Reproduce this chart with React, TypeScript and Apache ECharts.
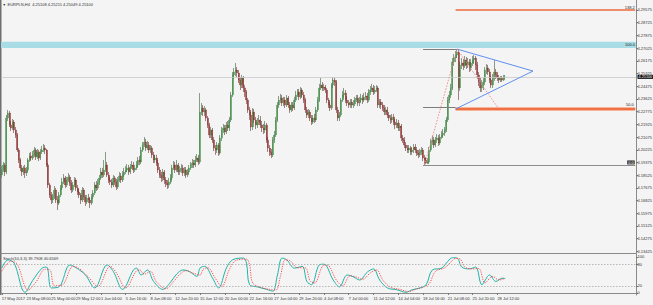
import React, { useEffect, useRef } from 'react';
import * as echarts from 'echarts';

// ---------- DATA ----------
const firstOpen = 4.1854;
const closes = [
4.1887,4.1921,4.1874,4.2235,4.2269,4.2188,4.2168,4.2208,4.2155,4.2121,
4.2021,4.1954,4.1901,4.1874,4.1901,4.1867,4.1887,4.1954,4.1981,4.1967,
4.1988,4.2021,4.1974,4.2008,4.1967,4.2008,4.2021,4.2034,4.2021,4.1921,
4.1787,4.1720,4.1686,4.1707,4.1753,4.1686,4.1666,4.1720,4.1767,4.1807,
4.1834,4.1787,4.1820,4.1840,4.1800,4.1753,4.1787,4.1820,4.1767,4.1740,
4.1720,4.1686,4.1753,4.1707,4.1673,4.1700,4.1686,4.1666,4.1707,4.1733,
4.1787,4.1767,4.1800,4.1834,4.1874,4.1854,4.1887,4.1921,4.1854,4.1820,
4.1807,4.1787,4.1834,4.1807,4.1773,4.1820,4.1847,4.1820,4.1854,4.1874,
4.1887,4.1901,4.1874,4.1907,4.1921,4.1887,4.1901,4.1921,4.1954,4.1941,
4.2021,4.2054,4.2074,4.2034,4.2054,4.2021,4.2034,4.1988,4.1954,4.1967,
4.1934,4.1887,4.1854,4.1834,4.1874,4.1820,4.1800,4.1787,4.1807,4.1834,
4.1901,4.1921,4.1887,4.1921,4.1874,4.1887,4.1901,4.1867,4.1887,4.1854,
4.1874,4.1901,4.1921,4.1934,4.1921,4.1954,4.1967,4.1941,4.2275,4.2302,
4.2275,4.2289,4.2235,4.2188,4.2121,4.2155,4.2088,4.2034,4.2021,4.2054,
4.2001,4.2101,4.2155,4.2168,4.2141,4.2188,4.2168,4.2222,4.2389,4.2523,
4.2543,4.2556,4.2536,4.2489,4.2456,4.2503,4.2436,4.2409,4.2355,4.2289,
4.2255,4.2175,4.2275,4.2222,4.2188,4.2208,4.2222,4.2188,4.2168,4.2155,
4.2188,4.2088,4.2034,4.2008,4.1988,4.2088,4.2121,4.2222,4.2322,4.2355,
4.2369,4.2335,4.2355,4.2322,4.2369,4.2322,4.2289,4.2322,4.2302,4.2355,
4.2389,4.2409,4.2376,4.2422,4.2389,4.2355,4.2289,4.2255,4.2275,4.2235,
4.2208,4.2235,4.2222,4.2289,4.2355,4.2436,4.2456,4.2436,4.2442,4.2422,
4.2355,4.2322,4.2302,4.2456,4.2489,4.2476,4.2289,4.2235,4.2255,4.2355,
4.2389,4.2402,4.2355,4.2335,4.2322,4.2342,4.2322,4.2329,4.2355,4.2369,
4.2335,4.2355,4.2369,4.2355,4.2376,4.2382,4.2355,4.2409,4.2422,4.2436,
4.2409,4.2422,4.2436,4.2322,4.2342,4.2322,4.2302,4.2275,4.2289,4.2255,
4.2235,4.2222,4.2242,4.2208,4.2188,4.2202,4.2168,4.2182,4.2101,4.2088,
4.2054,4.2034,4.2021,4.2034,4.2008,4.2021,4.2041,4.2021,4.2001,4.1988,
4.2008,4.2021,4.1967,4.1954,4.1934,4.1941,4.2021,4.2074,4.2088,4.2054,
4.2088,4.2101,4.2068,4.2108,4.2121,4.2135,4.2155,4.2222,4.2355,4.2389,
4.2436,4.2610,4.2636,4.2656,4.2676,4.2436,4.2590,4.2603,4.2583,4.2623,
4.2590,4.2610,4.2570,4.2603,4.2623,4.2636,4.2590,4.2523,4.2476,4.2436,
4.2456,4.2476,4.2556,4.2570,4.2543,4.2489,4.2456,4.2503,4.2543,4.2523,
4.2503,4.2489,4.2503,4.2489,4.2509,4.2510
];
const highs = [
4.1914,4.1941,4.1934,4.2255,4.2289,4.2282,4.2215,4.2228,4.2222,4.2175,
4.2135,4.2034,4.1967,4.1921,4.1914,4.1921,4.1907,4.1967,4.2001,4.2008,
4.2014,4.2041,4.2034,4.2028,4.2021,4.2028,4.2048,4.2061,4.2054,4.2028,
4.1934,4.1800,4.1740,4.1727,4.1780,4.1767,4.1713,4.1740,4.1787,4.1834,
4.1860,4.1847,4.1840,4.1867,4.1854,4.1820,4.1807,4.1840,4.1834,4.1787,
4.1760,4.1733,4.1773,4.1767,4.1720,4.1720,4.1727,4.1707,4.1727,4.1753,
4.1807,4.1813,4.1827,4.1854,4.1901,4.1901,4.1954,4.2008,4.1941,4.1874,
4.1840,4.1827,4.1854,4.1847,4.1827,4.1840,4.1874,4.1867,4.1880,4.1901,
4.1914,4.1927,4.1921,4.1927,4.1947,4.1941,4.1921,4.1947,4.1974,4.1981,
4.2041,4.2074,4.2108,4.2095,4.2081,4.2074,4.2054,4.2048,4.2008,4.1988,
4.1988,4.1954,4.1907,4.1874,4.1894,4.1887,4.1840,4.1820,4.1834,4.1860,
4.1921,4.1947,4.1941,4.1954,4.1934,4.1914,4.1927,4.1921,4.1907,4.1907,
4.1894,4.1921,4.1941,4.1961,4.1954,4.1981,4.1994,4.1988,4.2402,4.2335,
4.2322,4.2315,4.2302,4.2248,4.2202,4.2175,4.2168,4.2108,4.2054,4.2074,
4.2068,4.2121,4.2175,4.2195,4.2188,4.2208,4.2215,4.2242,4.2409,4.2543,
4.2570,4.2603,4.2576,4.2556,4.2509,4.2523,4.2516,4.2456,4.2422,4.2369,
4.2309,4.2275,4.2302,4.2295,4.2242,4.2235,4.2255,4.2248,4.2215,4.2195,
4.2215,4.2202,4.2108,4.2054,4.2028,4.2108,4.2148,4.2242,4.2342,4.2382,
4.2396,4.2389,4.2376,4.2376,4.2389,4.2382,4.2342,4.2342,4.2342,4.2376,
4.2416,4.2429,4.2429,4.2442,4.2436,4.2409,4.2369,4.2309,4.2295,4.2289,
4.2255,4.2255,4.2262,4.2309,4.2376,4.2463,4.2503,4.2476,4.2463,4.2456,
4.2436,4.2369,4.2342,4.2469,4.2509,4.2503,4.2489,4.2309,4.2275,4.2369,
4.2416,4.2436,4.2422,4.2382,4.2355,4.2362,4.2362,4.2355,4.2376,4.2389,
4.2389,4.2376,4.2396,4.2389,4.2402,4.2409,4.2402,4.2429,4.2449,4.2463,
4.2456,4.2449,4.2456,4.2449,4.2362,4.2362,4.2342,4.2322,4.2309,4.2309,
4.2275,4.2255,4.2262,4.2262,4.2228,4.2228,4.2222,4.2202,4.2195,4.2121,
4.2108,4.2074,4.2054,4.2054,4.2048,4.2041,4.2061,4.2061,4.2041,4.2021,
4.2028,4.2041,4.2034,4.1988,4.1974,4.1967,4.2041,4.2095,4.2115,4.2108,
4.2108,4.2128,4.2121,4.2128,4.2148,4.2161,4.2175,4.2242,4.2376,4.2416,
4.2463,4.2636,4.2663,4.2683,4.2696,4.2690,4.2610,4.2636,4.2630,4.2650,
4.2643,4.2636,4.2630,4.2630,4.2650,4.2656,4.2650,4.2610,4.2543,4.2503,
4.2489,4.2503,4.2576,4.2596,4.2590,4.2563,4.2516,4.2529,4.2623,4.2563,
4.2543,4.2523,4.2516,4.2516,4.2523,4.2523
];
const lows = [
4.1834,4.1874,4.1847,4.1860,4.2215,4.2175,4.2148,4.2155,4.2135,4.2101,
4.2008,4.1934,4.1880,4.1847,4.1854,4.1834,4.1847,4.1874,4.1941,4.1947,
4.1954,4.1974,4.1954,4.1961,4.1947,4.1954,4.1994,4.2008,4.1994,4.1907,
4.1767,4.1700,4.1660,4.1666,4.1693,4.1666,4.1620,4.1653,4.1707,4.1753,
4.1793,4.1767,4.1773,4.1807,4.1780,4.1733,4.1740,4.1773,4.1747,4.1720,
4.1700,4.1660,4.1673,4.1686,4.1646,4.1660,4.1666,4.1633,4.1653,4.1693,
4.1720,4.1747,4.1753,4.1787,4.1820,4.1834,4.1840,4.1874,4.1840,4.1800,
4.1787,4.1767,4.1773,4.1787,4.1753,4.1760,4.1807,4.1800,4.1807,4.1840,
4.1860,4.1874,4.1854,4.1860,4.1894,4.1867,4.1874,4.1887,4.1907,4.1921,
4.1927,4.2008,4.2041,4.2014,4.2021,4.2001,4.2001,4.1967,4.1934,4.1934,
4.1914,4.1867,4.1834,4.1807,4.1813,4.1793,4.1773,4.1760,4.1767,4.1793,
4.1820,4.1887,4.1867,4.1874,4.1854,4.1854,4.1867,4.1847,4.1847,4.1834,
4.1840,4.1860,4.1887,4.1901,4.1901,4.1907,4.1941,4.1921,4.1927,4.2255,
4.2248,4.2248,4.2215,4.2168,4.2101,4.2101,4.2068,4.2014,4.1988,4.2001,
4.1981,4.1988,4.2081,4.2135,4.2121,4.2128,4.2148,4.2148,4.2208,4.2376,
4.2496,4.2516,4.2509,4.2469,4.2422,4.2436,4.2409,4.2376,4.2329,4.2269,
4.2222,4.2148,4.2155,4.2202,4.2161,4.2168,4.2188,4.2168,4.2141,4.2128,
4.2135,4.2068,4.2008,4.1981,4.1967,4.1974,4.2068,4.2108,4.2208,4.2302,
4.2335,4.2315,4.2315,4.2302,4.2309,4.2302,4.2269,4.2275,4.2282,4.2289,
4.2342,4.2376,4.2355,4.2362,4.2369,4.2335,4.2269,4.2235,4.2235,4.2215,
4.2188,4.2195,4.2202,4.2208,4.2275,4.2342,4.2422,4.2416,4.2416,4.2402,
4.2335,4.2302,4.2282,4.2289,4.2436,4.2449,4.2269,4.2215,4.2215,4.2242,
4.2342,4.2369,4.2335,4.2315,4.2302,4.2302,4.2302,4.2302,4.2315,4.2342,
4.2315,4.2315,4.2342,4.2329,4.2342,4.2355,4.2335,4.2342,4.2389,4.2409,
4.2389,4.2396,4.2409,4.2302,4.2302,4.2295,4.2282,4.2255,4.2255,4.2235,
4.2215,4.2195,4.2202,4.2188,4.2161,4.2168,4.2148,4.2148,4.2081,4.2068,
4.2034,4.2014,4.2001,4.2001,4.1988,4.1988,4.2001,4.2001,4.1981,4.1967,
4.1974,4.1988,4.1947,4.1921,4.1927,4.1927,4.1927,4.2008,4.2054,4.2034,
4.2041,4.2068,4.2048,4.2054,4.2095,4.2101,4.2115,4.2141,4.2208,4.2335,
4.2369,4.2422,4.2583,4.2610,4.2636,4.2355,4.2416,4.2563,4.2556,4.2570,
4.2563,4.2570,4.2543,4.2549,4.2583,4.2596,4.2556,4.2496,4.2449,4.2409,
4.2409,4.2422,4.2456,4.2529,4.2523,4.2469,4.2436,4.2436,4.2483,4.2496,
4.2483,4.2469,4.2476,4.2476,4.2483,4.2496
];

const timeLabels = [
  '17 May 2017', '23 May 08:00', '25 May 00:00', '29 May 12:00', '1 Jun 04:00',
  '5 Jun 16:00', '8 Jun 08:00', '12 Jun 20:00', '15 Jun 12:00', '20 Jun 00:00',
  '22 Jun 16:00', '27 Jun 04:00', '29 Jun 20:00', '4 Jul 08:00', '7 Jul 00:00',
  '11 Jul 12:00', '14 Jul 04:00', '18 Jul 16:00', '21 Jul 08:00', '25 Jul 20:00',
  '28 Jul 12:00'
];

const priceTicks = [
  4.29575, 4.28725, 4.27875, 4.27025, 4.26175, 4.25325, 4.24475, 4.23625, 4.22775, 4.21925,
  4.21075, 4.20225, 4.19375, 4.18525, 4.17675, 4.16825, 4.15975, 4.15125, 4.14275, 4.13425
];
const stochTicks = [0, 20, 80, 100];
const stochBands = [20, 80];

// [bar index, value]
const stochK = [
  [0,69],[4,92],[8,83],[15,2],[20,35],[26,69],[29,72],[32,14],[37,17],[44,78],[48,70],[54,50],
  [60,14],[68,78],[72,60],[78,10],[85,64],[87,69],[90,50],[94,64],[98,32],[104,10],[109,30],
  [113,53],[117,64],[121,60],[126,46],[128,69],[131,74],[136,42],[140,14],[145,69],[149,92],
  [156,97],[158,83],[160,23],[165,17],[171,10],[175,5],[178,50],[181,97],[184,92],[189,69],
  [194,74],[197,32],[200,23],[205,78],[208,80],[214,36],[218,17],[223,50],[227,45],[231,36],
  [236,58],[240,67],[244,36],[249,14],[255,9],[261,2],[265,9],[270,14],[274,23],[278,64],
  [284,69],[288,88],[291,98],[294,97],[297,72],[302,67],[306,72],[310,23],[315,50],[319,32],
  [323,41],[325,40]
];
const stochD = [
  [0,60],[6,88],[10,80],[17,8],[22,30],[28,66],[31,65],[34,20],[39,22],[46,74],[50,68],[56,44],
  [62,18],[70,74],[74,56],[80,14],[87,62],[89,64],[92,52],[96,60],[100,30],[106,12],[111,32],
  [115,52],[119,62],[123,56],[128,50],[130,66],[133,70],[138,40],[142,18],[147,66],[151,90],
  [158,94],[160,78],[162,28],[167,16],[173,10],[177,8],[180,48],[183,92],[186,90],[191,70],
  [196,70],[199,34],[202,28],[207,74],[210,78],[216,36],[220,20],[225,48],[229,44],[233,38],
  [238,56],[242,64],[246,36],[251,16],[257,10],[263,4],[267,10],[272,16],[276,26],[280,60],
  [286,70],[290,86],[293,96],[296,94],[299,72],[304,67],[308,68],[312,28],[317,46],[321,36],
  [325,41]
];

// drawing anchors (bar index, price)
const swingLow = [273, 4.1921];
const swingHigh = [294, 4.2696];
const fibMid = 4.2309;
const fibMidEnd = [320, 4.2309];
const apex = [343, 4.2549];
const triangleLowStart = [293, 4.2295];
const orangeTop = 4.2958;
const orangeMid = 4.2300;
const zoneLow = 4.2703;
const zoneHigh = 4.2745;
const lastPrice = 4.2510;

const SLOTS = 410;
const LABEL_STEP = 16;

export default function App() {
  const ref = useRef<HTMLDivElement>(null);
  useEffect(() => {
    const chart = echarts.init(ref.current!, null, { renderer: 'svg' });
    const n = Math.min(closes.length, highs.length, lows.length);
    const ohlc: number[][] = [];
    for (let i = 0; i < n; i++) {
      const o = i === 0 ? firstOpen : closes[i - 1];
      ohlc.push([o, closes[i], lows[i], highs[i]]);
    }
    const isLabel = (i: number) => i % LABEL_STEP === 0 && i / LABEL_STEP < timeLabels.length;
    const categories = Array.from({ length: SLOTS }, (_, i) =>
      isLabel(i) ? timeLabels[i / LABEL_STEP] : 'b' + i
    );
    const END = SLOTS - 0.55;
    const font = 'Liberation Sans, Arial, sans-serif';
    const small = { fontSize: 4, fontFamily: font, color: '#333' };
    const seg = (a: number[], b: number[], lineStyle: any, label?: any) => [
      { coord: a, lineStyle, label: label || { show: false } },
      { coord: b },
    ];
    const gray = { color: '#7c7c7c', width: 1, type: 'solid' };
    const blue = { color: '#5f8ff0', width: 1, type: 'solid' };
    const redDot = { color: '#f08080', width: 0.9, type: [1.5, 1.5] };

    chart.setOption({
      animation: false,
      backgroundColor: '#f4f4f4',
      grid: [
        { left: 1, top: 0, width: 635, height: 253, containLabel: false, outerBoundsMode: 'none' },
        { left: 1, top: 254, width: 635, height: 41, containLabel: false, outerBoundsMode: 'none' },
      ],
      xAxis: [
        {
          type: 'category', gridIndex: 0, data: categories, boundaryGap: true,
          axisLine: { show: true, lineStyle: { color: '#8a8a8a', width: 1 } },
          axisTick: { show: false }, axisLabel: { show: false }, splitLine: { show: false },
        },
        {
          type: 'category', gridIndex: 1, data: categories, boundaryGap: true,
          axisLine: { show: true, lineStyle: { color: '#8a8a8a', width: 1 } },
          axisTick: { show: true, interval: (i: number) => isLabel(i), alignWithLabel: true, length: 2, lineStyle: { color: '#777' } },
          axisLabel: { show: true, interval: (i: number) => isLabel(i), align: 'left', margin: 1.5, ...small },
          splitLine: { show: false },
        },
      ],
      yAxis: [
        {
          type: 'value', gridIndex: 0, position: 'right', min: 4.13318, max: 4.30244, scale: true,
          axisLine: { show: true, lineStyle: { color: '#8a8a8a', width: 1 } },
          axisTick: { show: true, customValues: priceTicks, length: 2, lineStyle: { color: '#777' } },
          axisLabel: { show: true, customValues: priceTicks, margin: 1.5, formatter: (v: number) => v.toFixed(5), ...small },
          splitLine: { show: false },
        },
        {
          type: 'value', gridIndex: 1, position: 'right', min: -5.6, max: 108.3,
          axisLine: { show: true, lineStyle: { color: '#8a8a8a', width: 1 } },
          axisTick: { show: true, customValues: stochTicks, length: 2, lineStyle: { color: '#777' } },
          axisLabel: { show: true, customValues: stochTicks, margin: 1.5, formatter: (v: number) => String(v), ...small },
          splitLine: { show: false },
        },
      ],
      series: [
        {
          // wicks (gray)
          type: 'candlestick', xAxisIndex: 0, yAxisIndex: 0, data: ohlc, barWidth: 0.6,
          itemStyle: { color: '#8f8f8f', color0: '#8f8f8f', borderColor: '#8f8f8f', borderColor0: '#8f8f8f', borderWidth: 0.8 },
          markArea: {
            silent: true,
            data: [[
              { yAxis: zoneLow, itemStyle: { color: '#a9dde6' }, label: { show: true, position: 'insideRight', formatter: '100.0', ...small, color: '#222', distance: 1 } },
              { yAxis: zoneHigh },
            ]],
          },
        },
        {
          // bodies (green up, dark red down)
          type: 'candlestick', xAxisIndex: 0, yAxisIndex: 0, data: ohlc, barWidth: 1.5,
          itemStyle: { color: '#2f8a34', color0: '#8e1d1d', borderColor: '#2f8a34', borderColor0: '#8e1d1d', borderWidth: 0.25 },
          markLine: {
            silent: true, symbol: ['none', 'none'], precision: 5,
            label: { show: false },
            data: [
              { yAxis: lastPrice, lineStyle: { color: '#c9c9c9', width: 0.8, type: 'solid' },
                label: { show: true, position: 'end', formatter: '4.25100', fontSize: 3.8, lineHeight: 4, fontFamily: font, color: '#fff', backgroundColor: '#111', padding: [0, 1, 0, 1], distance: 1.5 } },
              seg([293, orangeTop], [END, orangeTop], { color: '#ee6a3c', width: 1.6, type: 'solid' },
                { show: true, position: 'insideEndTop', formatter: '138.2', distance: 0.5, ...small, color: '#222' }),
              seg([293, orangeMid], [END, orangeMid], { color: '#f7b59c', width: 4, type: 'solid' }),
              seg([293, orangeMid], [END, orangeMid], { color: '#ec5a26', width: 1.5, type: 'solid' },
                { show: true, position: 'insideEndTop', formatter: '50.0', distance: 1.5, ...small, color: '#222' }),
              seg([272, swingHigh[1]], [294, swingHigh[1]], gray),
              seg([272, fibMid], [293, fibMid], gray),
              seg([272, swingLow[1]], [END, swingLow[1]], { color: '#8c8c8c', width: 1.2, type: 'solid' },
                { show: true, position: 'insideEndTop', formatter: '0.0', distance: 0.5, fontSize: 4, fontFamily: font, color: '#fff', backgroundColor: '#333', padding: [0, 1, 0, 1] }),
              seg(swingHigh, apex, blue),
              seg(triangleLowStart, apex, blue),
              seg(swingLow, swingHigh, redDot),
              seg(swingHigh, fibMidEnd, redDot),
            ],
          },
        },
        {
          type: 'line', xAxisIndex: 1, yAxisIndex: 1, data: stochK, showSymbol: false, smooth: 0.35,
          lineStyle: { color: '#20b2aa', width: 1 },
          markLine: {
            silent: true, symbol: ['none', 'none'], label: { show: false },
            lineStyle: { color: '#a8a8a8', width: 0.8, type: [1.5, 1.5] },
            data: stochBands.map((v) => ({ yAxis: v })),
          },
        },
        {
          type: 'line', xAxisIndex: 1, yAxisIndex: 1, data: stochD, showSymbol: false, smooth: 0.35,
          lineStyle: { color: '#ff3b3b', width: 0.9, type: [1.2, 1.2] },
        },
      ],
      graphic: [
        { type: 'rect', left: 0, top: 0, shape: { width: 1.5, height: 295 }, style: { fill: '#6f6f6f' } },
        { type: 'text', left: 2.5, top: 2.5, style: { text: '▼', fontSize: 3.5, fill: '#333', fontFamily: font } },
        { type: 'text', left: 7.5, top: 2.5, style: { text: 'EURPLN,H4  4.25108 4.25211 4.25049 4.25100', fontSize: 4, fill: '#333', fontFamily: font } },
        { type: 'text', left: 3, top: 256.5, style: { text: 'Stoch(10,3,3) 39.7908 40.6569', fontSize: 4, fill: '#333', fontFamily: font } },
      ],
    });
    return () => chart.dispose();
  }, []);
  return <div ref={ref} style={{ position: 'fixed', left: 0, top: 0, width: 653, height: 305 }} />;
}
